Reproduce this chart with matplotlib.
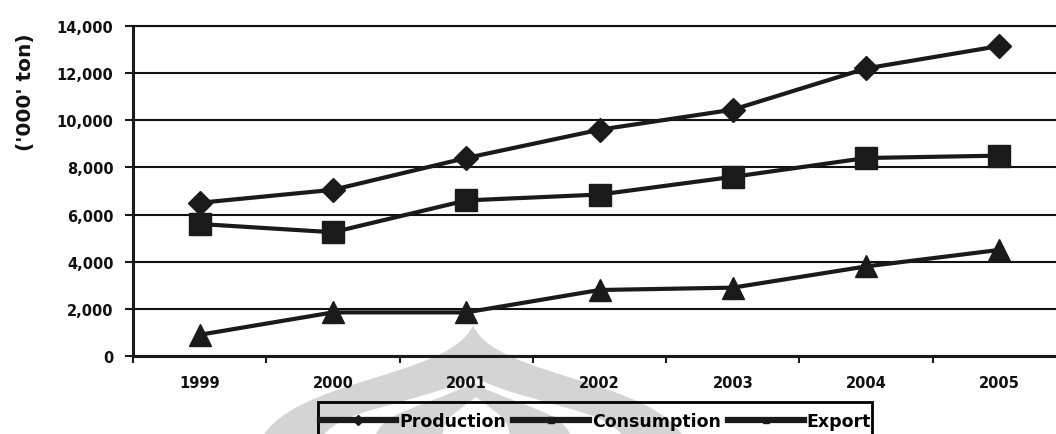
import numpy as np
import matplotlib
matplotlib.use("Agg")
import matplotlib.pyplot as plt
from matplotlib.lines import Line2D
from matplotlib.path import Path
from matplotlib.patches import PathPatch, Rectangle
from matplotlib.ticker import FuncFormatter

years = ['1999', '2000', '2001', '2002', '2003', '2004', '2005']
production = [6500, 7050, 8400, 9600, 10450, 12200, 13150]
consumption = [5600, 5250, 6600, 6850, 7600, 8400, 8500]
export = [900, 1850, 1850, 2800, 2900, 3800, 4500]

W, H = 1056, 435
INK = '#1a1a1a'
plt.rcParams['font.family'] = ['DejaVu Sans']

fig = plt.figure(figsize=(W / 100, H / 100), dpi=100)
fig.patch.set_facecolor('white')


def px(x, y):
    """Pixel position (y measured downward) to figure fraction."""
    return (x / W, 1 - y / H)


# faint emblem behind the lower part of the chart
def dome(cx, half_base, tip_y, base_y=445, k1=0.12, k2=0.9):
    left = cx - half_base
    right = cx + half_base
    verts = [
        px(left, base_y),
        px(left + half_base * k1, base_y - (base_y - tip_y) * 0.55),
        px(cx - half_base * (1 - k2), tip_y + (base_y - tip_y) * 0.45),
        px(cx, tip_y),
        px(cx + half_base * (1 - k2), tip_y + (base_y - tip_y) * 0.45),
        px(right - half_base * k1, base_y - (base_y - tip_y) * 0.55),
        px(right, base_y),
        px(left, base_y),
    ]
    codes = [Path.MOVETO, Path.CURVE4, Path.CURVE4, Path.CURVE4,
             Path.CURVE4, Path.CURVE4, Path.CURVE4, Path.CLOSEPOLY]
    return Path(verts, codes)


emblem = [
    (473, 214, 326, '#d4d4d4', 0.12, 0.9),
    (473, 155, 378, 'white', 0.10, 0.6),
    (473, 100, 384, '#d4d4d4', 0.05, 0.45),
    (476, 34, 398, 'white', 0.0, 0.2),
]
for i, (cx, hb, ty, col, k1, k2) in enumerate(emblem):
    fig.patches.append(PathPatch(dome(cx, hb, ty, k1=k1, k2=k2), facecolor=col,
                                 edgecolor='none', transform=fig.transFigure, zorder=-10 + i))

ax = fig.add_axes([133 / W, 78 / H, 933 / W, 330 / H])
ax.set_facecolor('none')
ax.set_zorder(1)

x = np.arange(len(years))
ax.plot(x, production, color=INK, lw=3, marker='D', ms=12.5, zorder=4)
ax.plot(x, consumption, color=INK, lw=3, marker='s', ms=15.5, zorder=4)
ax.plot(x, export, color=INK, lw=3, marker='^', ms=16.5, zorder=4)

ax.set_xlim(-0.5, len(years) - 0.5)
ax.set_ylim(0, 14000)
ax.set_yticks(range(0, 14001, 2000))
ax.yaxis.set_major_formatter(FuncFormatter(lambda v, _: f'{int(v):,}'))
ax.yaxis.grid(True, color='#111111', lw=1.5)
ax.set_axisbelow(True)

ax.set_xticks(x)
ax.set_xticklabels(years)
ax.set_xticks(np.arange(-0.5, len(years), 1.0), minor=True)
ax.tick_params(axis='x', which='major', length=0, pad=14)
ax.tick_params(axis='x', which='minor', length=5, width=1.5, direction='out', color=INK)
ax.tick_params(axis='y', length=6, width=1.5, direction='out', pad=8, color=INK)
for lab in ax.get_xticklabels() + ax.get_yticklabels():
    lab.set_fontsize(10.5)
    lab.set_fontweight('bold')
    lab.set_color('#111111')

for side in ('left', 'bottom'):
    ax.spines[side].set_linewidth(2.2)
    ax.spines[side].set_color(INK)
ax.spines['top'].set_linewidth(1.5)
ax.spines['top'].set_color('#111111')
ax.spines['right'].set_visible(False)

fig.text(25 / W, 1 - 92 / H, "('000' ton)", rotation=90, ha='center', va='center',
         fontsize=14.5, fontweight='bold', color='#111111')

# legend box running off the lower edge of the figure
x0, y0 = px(318, 403)
x1, _ = px(872, 403)
fig.patches.append(Rectangle((x0, -0.05), x1 - x0, y0 + 0.05, transform=fig.transFigure,
                             facecolor='none', edgecolor='black', lw=2, zorder=6))

handles = [
    Line2D([], [], color=INK, lw=4.5, marker='D', ms=5),
    Line2D([], [], color=INK, lw=4.5, marker='s', ms=5),
    Line2D([], [], color=INK, lw=4.5, marker='^', ms=5),
]
leg = fig.legend(handles, ['Production', 'Consumption', 'Export'],
                 loc='center left', bbox_to_anchor=px(320, 422),
                 ncol=3, frameon=False, borderpad=0, handlelength=4.4,
                 handletextpad=0.15, columnspacing=0.4, borderaxespad=0,
                 prop={'weight': 'bold', 'size': 12.5})
leg.set_zorder(7)

fig.savefig('out.png', dpi=100, facecolor='white')
